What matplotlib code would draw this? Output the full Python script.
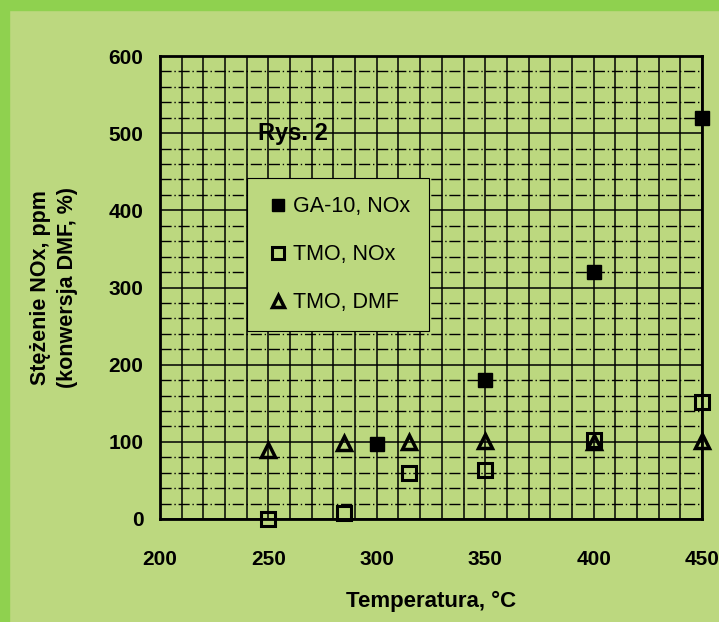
import matplotlib.pyplot as plt
from matplotlib.patches import Rectangle
from matplotlib.ticker import MultipleLocator

plt.rcParams['font.family'] = ['Liberation Sans', 'DejaVu Sans']
plt.rcParams['font.weight'] = 'bold'

bg = '#bcd87f'
border = '#8fd14f'

# dane
ga_t = [300, 350, 400, 450]
ga_nox = [97, 180, 320, 520]

tmo_t = [250, 285, 315, 350, 400, 450]
tmo_nox = [0, 8, 60, 64, 102, 151]
tmo_dmf = [90, 98, 100, 101, 100, 101]

xticks = [200, 250, 300, 350, 400, 450]
yticks = [0, 100, 200, 300, 400, 500, 600]

fig = plt.figure(figsize=(7.19, 6.22), dpi=100)
fig.patch.set_facecolor(bg)
# zielona ramka z lewej i u góry
fig.patches.append(Rectangle((0, 0), 9 / 719, 1, transform=fig.transFigure,
                             color=border, zorder=0))
fig.patches.append(Rectangle((0, 1 - 10 / 622), 1, 10 / 622, transform=fig.transFigure,
                             color=border, zorder=0))

ax = fig.add_axes([160 / 719, 1 - 519 / 622, 542 / 719, 463 / 622])
ax.set_facecolor(bg)

ax.set_xlim(200, 450)
ax.set_ylim(0, 600)
ax.set_xticks(xticks)
ax.set_yticks(yticks)
ax.xaxis.set_minor_locator(MultipleLocator(10))
ax.yaxis.set_minor_locator(MultipleLocator(20))
ax.grid(True, which='both', axis='x', color='black', lw=1.1)
ax.grid(True, which='major', axis='y', color='black', lw=1.1)
ax.grid(True, which='minor', axis='y', color='black', lw=1.0, ls=(0, (8, 2, 1, 2)))
ax.set_axisbelow(True)
ax.tick_params(which='both', length=0)
ax.tick_params(axis='x', pad=22, labelsize=15)
ax.tick_params(axis='y', pad=12, labelsize=15)
for s in ax.spines.values():
    s.set_linewidth(2)

ms = 10
ax.plot(ga_t, ga_nox, 's', color='black', ms=ms, clip_on=False, zorder=5,
        label='GA-10, NOx')
ax.plot(tmo_t, tmo_nox, 's', mfc='none', mec='black', mew=2.2, ms=ms,
        clip_on=False, zorder=5, label='TMO, NOx')
ax.plot(tmo_t, tmo_dmf, '^', mfc='none', mec='black', mew=2.5, ms=ms,
        clip_on=False, zorder=5, label='TMO, DMF')

leg = ax.legend(loc='upper left', bbox_to_anchor=(87 / 542, 1 - 122 / 463),
                frameon=True, fancybox=False, framealpha=1, facecolor=bg,
                edgecolor='black', fontsize=15.5, labelspacing=1.25,
                handletextpad=0.1, handlelength=1.2, borderpad=0.85,
                borderaxespad=0, markerscale=0.85)
leg.get_frame().set_linewidth(0.8)
for t in leg.get_texts():
    t.set_fontweight('normal')

ax.text(245, 500, 'Rys. 2', fontsize=17, fontweight='bold', va='center', zorder=6)

ax.set_xlabel('Temperatura, °C', fontsize=16, fontweight='bold', labelpad=16)
ax.set_ylabel('Stężenie NOx, ppm\n(konwersja DMF, %)', fontsize=15.5,
              fontweight='bold', labelpad=22, linespacing=1.35)

fig.savefig('out.png', dpi=100, facecolor=bg)
